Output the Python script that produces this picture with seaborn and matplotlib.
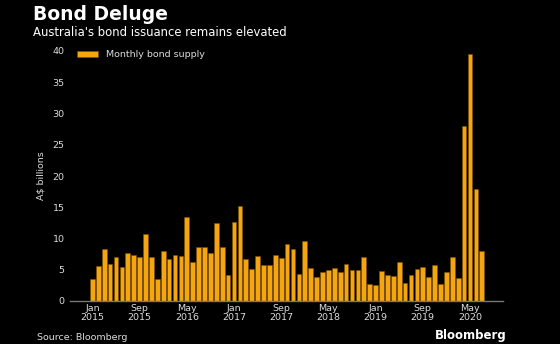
import matplotlib
matplotlib.use("Agg")
import matplotlib.pyplot as plt
import seaborn as sns
import pandas as pd

months = pd.date_range("2015-01-01", "2020-07-01", freq="MS").strftime("%Y-%m").tolist()
supply = [3.5, 5.6, 8.4, 5.9, 7.1, 5.4, 7.7, 7.3, 7.1, 10.8, 7.1, 3.5,
          8.0, 6.7, 7.4, 7.2, 13.5, 6.3, 8.6, 8.6, 7.7, 12.5, 8.7, 4.1,
          12.7, 15.2, 6.8, 5.1, 7.2, 5.8, 5.8, 7.4, 6.9, 9.2, 8.3, 4.3,
          9.6, 5.3, 3.8, 4.6, 5.0, 5.3, 4.7, 5.9, 4.9, 5.0, 7.1, 2.7,
          2.6, 4.8, 4.2, 4.0, 6.2, 2.9, 4.2, 5.1, 5.4, 3.9, 5.8, 2.8,
          4.7, 7.0, 3.7, 28.0, 39.5, 18.0, 8.0]
tick_pos = [0, 8, 16, 24, 32, 40, 48, 56, 64]
tick_labels = ["Jan\n2015", "Sep\n2015", "May\n2016", "Jan\n2017", "Sep\n2017",
               "May\n2018", "Jan\n2019", "Sep\n2019", "May\n2020"]
y_ticks = [0, 5, 10, 15, 20, 25, 30, 35, 40]

df = pd.DataFrame({"month": months, "supply": supply})

sns.set_style("dark")
plt.rcParams["font.family"] = ["DejaVu Sans"]

fig = plt.figure(figsize=(5.6, 3.44), dpi=100, facecolor="black")
ax = fig.add_axes([70/560, 1 - 301/344, (503 - 70)/560, (301 - 51)/344])
ax.set_facecolor("black")

bar_color = "#f5a60f"
sns.barplot(data=df, x="month", y="supply", order=months, color=bar_color,
            saturation=1, width=0.8, edgecolor="#7a4f00", linewidth=0.4,
            ax=ax, label="Monthly bond supply")

ax.set_xlim(-3.8, 69.6)
ax.set_ylim(0, 40)
ax.set_xticks(tick_pos)
ax.set_xticklabels(tick_labels, fontsize=6.8, color="#dddddd", linespacing=1.0)
ax.set_yticks(y_ticks)
ax.set_yticklabels([str(v) for v in y_ticks], fontsize=6.8, color="#dddddd")
ax.tick_params(axis="y", length=2, color="#888888", pad=2)
ax.tick_params(axis="x", length=0, pad=2)
ax.set_xlabel("")
ax.set_ylabel("A$ billions", fontsize=6.8, color="#dddddd", labelpad=5)
ax.grid(False)
for s in ["top", "right", "left"]:
    ax.spines[s].set_visible(False)
ax.spines["bottom"].set_visible(True)
ax.spines["bottom"].set_color("#777777")
ax.spines["bottom"].set_linewidth(1.0)

leg = ax.legend(loc="upper left", bbox_to_anchor=(0.0, 1.03), frameon=False,
                fontsize=6.8, handlelength=2.3, handleheight=0.6, handletextpad=0.8,
                borderaxespad=0.3)
for t in leg.get_texts():
    t.set_color("#dddddd")

fig.text(33/560, 1 - 14/344, "Bond Deluge", fontsize=13.5, fontweight="bold",
         color="white", va="center", ha="left")
fig.text(33/560, 1 - 33/344, "Australia's bond issuance remains elevated",
         fontsize=8.4, color="white", va="center", ha="left")
fig.text(37/560, 1 - 337/344, "Source: Bloomberg", fontsize=6.8, color="#dddddd",
         va="center", ha="left")
fig.text(507/560, 1 - 335/344, "Bloomberg", fontsize=8.5, fontweight="bold",
         color="white", va="center", ha="right")

fig.savefig("out.png", dpi=100, facecolor="black")
